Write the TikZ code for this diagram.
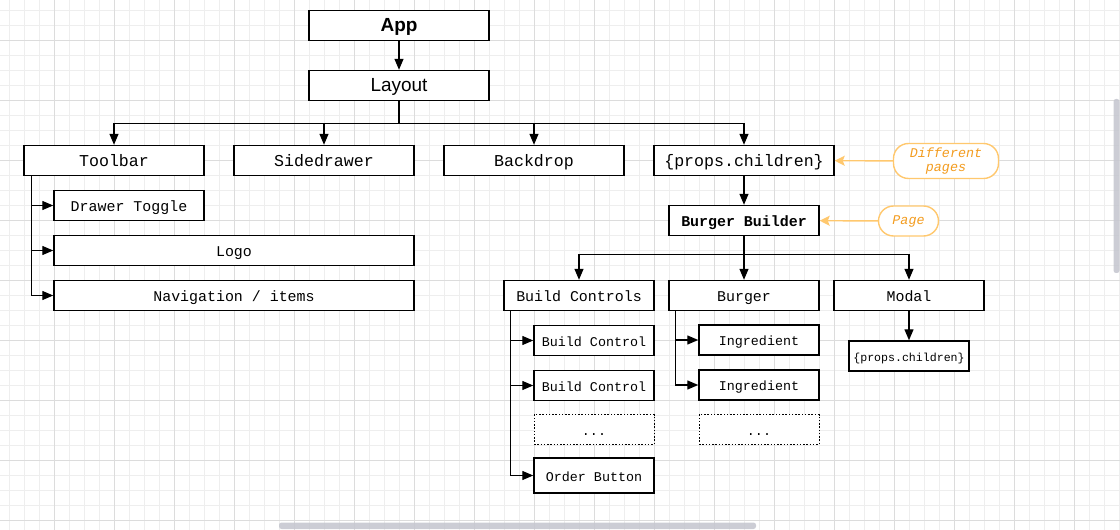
\documentclass[tikz,border=0pt]{standalone}
\usepackage{fontspec}
\setmainfont{Liberation Sans}
\setmonofont{Liberation Mono}
\usetikzlibrary{arrows.meta}
\definecolor{gridminor}{HTML}{EEEEEE}
\definecolor{gridmajor}{HTML}{DCDCDC}
\definecolor{notetext}{HTML}{F39C1F}
\definecolor{noteline}{HTML}{FFC86E}
\definecolor{scrollbar}{HTML}{C6C8D0}

\begin{document}
\begin{tikzpicture}[x=0.02cm, y=-0.02cm,
box/.style = {draw, fill=white, line width=0.85pt, inner sep=0pt, minimum width=3cm, minimum height=0.6cm, text height=0.64em, text depth=0pt, font=\ttfamily\fontsize{8.5}{10}\selectfont},
bigtxt/.style = {font=\ttfamily\fontsize{9.45}{11}\selectfont},
smalltxt/.style = {font=\ttfamily\fontsize{7.6}{9}\selectfont},
sanstxt/.style = {font=\fontsize{10.8}{12}\selectfont},
dotbox/.style = {box, smalltxt, minimum width=2.4cm, densely dotted, line width=0.5pt},
notebox/.style = {draw=noteline, fill=white, line width=0.8pt, rounded corners=0.3cm, inner sep=0pt, minimum height=0.6cm, text=notetext, align=center, font=\ttfamily\itshape\fontsize{7.6}{7.9}\selectfont},
arr/.style = {line width=0.75pt, -{Triangle[length=0.22cm, width=0.18cm]}},
notearr/.style = {draw=noteline, line width=0.8pt, -{Stealth[length=0.2cm, width=0.2cm, inset=0.04cm]}}
]
\useasboundingbox (0,0) rectangle (1120,530);
% background grid
\foreach \gx in {9,24,...,1119}{\draw[gridminor, line width=0.55pt] (\gx,0) -- (\gx,530);}
\foreach \gy in {10,25,...,520}{\draw[gridminor, line width=0.55pt] (0,\gy) -- (1120,\gy);}
\foreach \gx in {54,114,...,1074}{\draw[gridmajor, line width=0.55pt] (\gx,0) -- (\gx,530);}
\foreach \gy in {40,100,...,520}{\draw[gridmajor, line width=0.55pt] (0,\gy) -- (1120,\gy);}
% scrollbars
\fill[scrollbar, opacity=0.9, rounded corners=0.05cm] (1113.5,99) rectangle (1119.5,273);
\fill[scrollbar, opacity=0.9, rounded corners=0.05cm] (279,522.5) rectangle (756,529);

\node[box, minimum width=3.6cm, font=\bfseries\fontsize{10.8}{12}\selectfont] (app) at (399,25.5) {App};
\node[box, sanstxt, minimum width=3.6cm] (layout) at (399,85.5) {Layout};

\node[box, bigtxt, minimum width=3.6cm] (toolbar) at (114,160.5) {Toolbar};
\node[box, bigtxt, minimum width=3.6cm] (sidedrawer) at (324,160.5) {Sidedrawer};
\node[box, bigtxt, minimum width=3.6cm] (backdrop) at (534,160.5) {Backdrop};
\node[box, bigtxt, minimum width=3.6cm] (children) at (744,160.5) {\{props.children\}};

\node[box] (drawer) at (129,205.5) {Drawer Toggle};
\node[box, minimum width=7.2cm] (logo) at (234,250.5) {Logo};
\node[box, minimum width=7.2cm] (navigation) at (234,295.5) {Navigation / items};

\node[box, font=\ttfamily\bfseries\fontsize{8.5}{10}\selectfont] (builder) at (744,220.5) {Burger Builder};

\node[box] (buildcontrols) at (579,295.5) {Build Controls};
\node[box] (burger) at (744,295.5) {Burger};
\node[box] (modal) at (909,295.5) {Modal};

\node[box, smalltxt, minimum width=2.4cm] (bc1) at (594,340.5) {Build Control};
\node[box, smalltxt, minimum width=2.4cm] (bc2) at (594,385.5) {Build Control};
\node[dotbox] (bcdots) at (594,429.5) {...};
\node[box, smalltxt, minimum width=2.4cm, minimum height=0.7cm] (order) at (594,475.5) {Order Button};

\node[box, smalltxt, minimum width=2.4cm] (ing1) at (759,340) {Ingredient};
\node[box, smalltxt, minimum width=2.4cm] (ing2) at (759,385) {Ingredient};
\node[dotbox] (ingdots) at (759,429.5) {...};

\node[box, minimum width=2.4cm, font=\ttfamily\fontsize{6.6}{8}\selectfont] (modalkid) at (909,356) {\{props.children\}};

\node[notebox, minimum width=2.1cm, minimum height=0.7cm] (diffnote) at (946,161) {Different\\pages};
\node[notebox, minimum width=1.2cm] (pagenote) at (908.5,221) {Page};

% connectors
\draw[arr] (app) -- (layout);
\foreach \c in {toolbar, sidedrawer, backdrop, children}{\draw[arr] (layout.south) -- ++(0,22.5) -| (\c.north);}
\foreach \c in {drawer, logo, navigation}{\draw[arr] ([xshift=0.17cm]toolbar.south west) |- (\c.west);}
\draw[arr] (children) -- (builder);
\foreach \c in {buildcontrols, burger, modal}{\draw[arr] (builder.south) -- ++(0,18) -| (\c.north);}
\foreach \c in {bc1, bc2, order}{\draw[arr] ([xshift=0.14cm]buildcontrols.south west) |- (\c.west);}
\foreach \c in {ing1, ing2}{\draw[arr] ([xshift=0.14cm]burger.south west) |- (\c.west);}
\draw[arr] (modal) -- (modalkid);
\draw[notearr] (diffnote) -- (children);
\draw[notearr] (pagenote) -- (builder);
\end{tikzpicture}
\end{document}
